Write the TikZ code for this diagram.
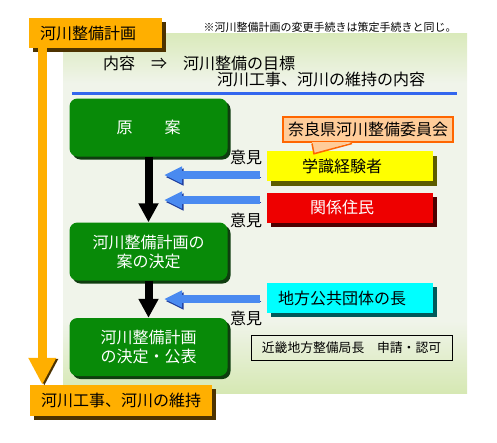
\documentclass[tikz,border=0pt]{standalone}
\usepackage{fontspec}
\newfontfamily\jp{Noto Sans CJK JP}
\usetikzlibrary{arrows.meta, shadows}

\definecolor{pgreen}{HTML}{99CC33}
\definecolor{pwhite}{HTML}{F0F4EA}
\definecolor{boxgreen}{HTML}{088A08}
\definecolor{gshade}{HTML}{0F3D0F}
\definecolor{orng}{HTML}{FFAF00}
\definecolor{oshade}{HTML}{4D3300}
\definecolor{ylw}{HTML}{FFFF00}
\definecolor{yshade}{HTML}{5C5C00}
\definecolor{rd}{HTML}{EE0000}
\definecolor{rshade}{HTML}{4D0000}
\definecolor{cyn}{HTML}{00FFFF}
\definecolor{cshade}{HTML}{005A5A}
\definecolor{bblue}{HTML}{4A8AF0}
\definecolor{bshade}{HTML}{1E3C9C}
\definecolor{rule}{HTML}{3366EE}
\definecolor{peach}{HTML}{FFCC99}
\definecolor{callout}{HTML}{FF6600}

\pgfdeclareverticalshading{panelshade}{100bp}{color(0bp)=(pgreen); color(8bp)=(pgreen!90!pwhite); color(20bp)=(pgreen!45!pwhite); color(35bp)=(pwhite); color(68bp)=(pwhite); color(80bp)=(pgreen!45!pwhite); color(92bp)=(pgreen!85!pwhite); color(100bp)=(pgreen)}

\begin{document}
\begin{tikzpicture}[x=1pt, y=-1pt,
    every node/.style={font=\jp\fontsize{16}{19}\selectfont, inner sep=0pt},
    gbox/.style={rectangle, rounded corners=8pt, fill=boxgreen, text=white, align=center, minimum width=158pt, minimum height=58pt, drop shadow={shadow xshift=3pt, shadow yshift=-3pt, fill=gshade, opacity=1}},
    obox/.style={rectangle, fill=orng, minimum height=30pt, drop shadow={shadow xshift=4pt, shadow yshift=-4pt, fill=oshade, opacity=1}},
    rbox/.style={rectangle, minimum width=166pt, minimum height=30pt, execute at end node=\hspace{16pt}},
    lbl/.style={font=\jp\fontsize{16}{19}\selectfont},
    barrow/.style={line width=8pt, draw=bblue, -{Triangle[width=16pt, length=18pt]}, preaction={draw=bshade, transform canvas={shift={(1.5pt,-2pt)}}}},
    karrow/.style={line width=8pt, -{Triangle[width=19pt, length=19pt]}},
    oarrow/.style={line width=9pt, draw=orng, -{Triangle[width=26pt, length=27pt]}, preaction={draw=oshade, transform canvas={shift={(2pt,-1pt)}}}},
]
\useasboundingbox (0,0) rectangle (497,442);
\shade[shading=panelshade] (63,33) rectangle (467,393);

\node (note) at (330,27) [font=\jp\fontsize{11}{13}\selectfont] {※河川整備計画の変更手続きは策定手続きと同じ。};
\node[obox, minimum width=133pt, execute at end node=\hspace{15pt}] (plan) at (95.5,33) {河川整備計画};
\node[obox, minimum width=182pt, minimum height=31pt] (upkeep) at (121,400.5) {河川工事、河川の維持};

\node[anchor=west] (head1) at (103,63) {内容　⇒　河川整備の目標};
\node[anchor=west] (head2) at (217,79) {河川工事、河川の維持の内容};
\draw[rule, line width=3pt] (72,93) -- (457,93);

\node[gbox] (gen) at (148.5,127.5) {原　　案};
\node[gbox] (draft) at (148.5,251.5) {河川整備計画の\\案の決定};
\node[gbox] (final) at (148.5,347) {河川整備計画\\の決定・公表};

\node[rbox, fill=ylw, drop shadow={shadow xshift=4pt, shadow yshift=-5pt, fill=yshade, opacity=1}] (scholar) at (350,166) {学識経験者};
\node[rbox, fill=rd, text=white, drop shadow={shadow xshift=4pt, shadow yshift=-4pt, fill=rshade, opacity=1}] (resid) at (350,207.5) {関係住民};
\node[rbox, fill=cyn, drop shadow={shadow xshift=4pt, shadow yshift=-4pt, fill=cshade, opacity=1}] (local) at (350,298) {地方公共団体の長};

\node[rectangle, fill=peach, draw=callout, line width=1.5pt, minimum width=170pt, minimum height=25pt] (cttee) at (368,129.5) {奈良県河川整備委員会};
\fill[peach] ([xshift=-56pt, yshift=0.75pt]cttee.south) -- ([xshift=-54pt, yshift=-11pt]cttee.south) -- ([xshift=-16pt, yshift=0.75pt]cttee.south) -- cycle;
\draw[callout, line width=1.5pt] ([xshift=-56pt, yshift=-0.75pt]cttee.south) -- ([xshift=-54pt, yshift=-11pt]cttee.south) -- ([xshift=-16pt, yshift=-0.75pt]cttee.south);

\node[rectangle, draw, line width=0.8pt, minimum width=201pt, minimum height=25pt, font=\jp\fontsize{12.8}{15}\selectfont] (kinki) at (351.5,347.5) {近畿地方整備局長　申請・認可};

\node[lbl] (op1) at (246,157) {意見};
\node[lbl] (op2) at (246,220) {意見};
\node[lbl] (op3) at (246,318) {意見};

\coordinate (t1) at (164,175);
\coordinate (t2) at (164,200);
\coordinate (t3) at (164,299);

\draw[oarrow] ([xshift=13.5pt]plan.south west) -- ([xshift=12.5pt]upkeep.north west);
\draw[karrow] (gen.south) -- (draft.north);
\draw[karrow] (draft.south) -- (final.north);
\draw[barrow] ([xshift=-7pt, yshift=-9pt]scholar.west) -- (t1);
\draw[barrow] ([xshift=-7pt, yshift=7.5pt]resid.west) -- (t2);
\draw[barrow] ([xshift=-7pt, yshift=-1pt]local.west) -- (t3);
\end{tikzpicture}
\end{document}
